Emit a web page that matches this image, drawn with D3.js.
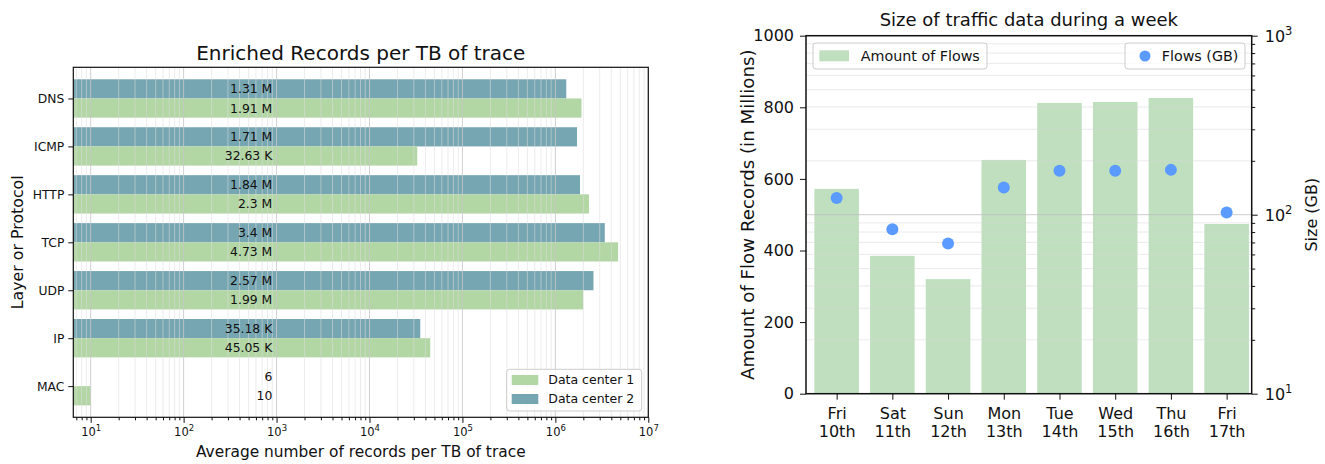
<!DOCTYPE html>
<html>
<head>
<meta charset="utf-8">
<script src="https://cdn.jsdelivr.net/npm/d3@7"></script>
<style>
  body { margin: 0; background: #fff; }
  text { font-family: "DejaVu Sans", sans-serif; fill: #111; }
  .domain { display: none; }
</style>
</head>
<body>
<svg width="1325" height="464"></svg>
<script>
// left chart data
var protocols = ["DNS", "ICMP", "HTTP", "TCP", "UDP", "IP", "MAC"];
var dc1Values = [1.91e6, 32630, 2.3e6, 4.73e6, 1.99e6, 45050, 10];
var dc2Values = [1.31e6, 1.71e6, 1.84e6, 3.4e6, 2.57e6, 35180, 6];
var seriesNames = ["Data center 1", "Data center 2"];

// right chart data
var dayNames = ["Fri", "Sat", "Sun", "Mon", "Tue", "Wed", "Thu", "Fri"];
var dayDates = ["10th", "11th", "12th", "13th", "14th", "15th", "16th", "17th"];
var flowsMillions = [572, 385, 320, 653, 812, 815, 826, 474];
var flowsGB = [124, 83, 69, 142, 176, 176, 178, 103];
var leftTicks = [0, 200, 400, 600, 800, 1000];

var svg = d3.select("svg");
var green = "#b2d6a4", teal = "#76a6b2";

var fmt2 = d3.format(".2~f");
function short(v) {
  if (v >= 1e6) return fmt2(v / 1e6) + " M";
  if (v >= 1e3) return fmt2(v / 1e3) + " K";
  return String(v);
}

// log tick values between two limits
function logTicks(lo, hi) {
  var major = [], minor = [];
  for (var k = Math.floor(Math.log10(lo)); k <= Math.ceil(Math.log10(hi)); k++) {
    for (var m = 1; m < 10; m++) {
      var v = m * Math.pow(10, k);
      if (v < lo * 0.999 || v > hi * 1.001) continue;
      (m == 1 ? major : minor).push(v);
    }
  }
  return { major: major, minor: minor };
}

function powText(sel, exp, size, supSize) {
  sel.append("tspan").text("10");
  sel.append("tspan").attr("dy", -size * 0.42).style("font-size", supSize + "px").text(exp);
}

/* ---------------- left: enriched records ---------------- */
var L = { left: 73.3, right: 648.3, top: 67.3, bottom: 417.3 };

var x = d3.scaleLog().domain([6.5, 1e7]).range([L.left, L.right]);
var y = d3.scaleLinear().domain([-0.65, 6.65]).range([L.top, L.bottom]);
var bh = 0.4;

var g1 = svg.append("g");

var rows = protocols.map(function (p, i) {
  return { name: p, i: i, dc1: dc1Values[i], dc2: dc2Values[i] };
});

function barW(v) { return Math.max(0, x(v) - x.range()[0]); }

g1.selectAll(".dc2").data(rows).enter().append("rect")
  .attr("x", L.left)
  .attr("y", function (d) { return y(d.i - bh); })
  .attr("width", function (d) { return barW(d.dc2); })
  .attr("height", y(bh) - y(0))
  .attr("fill", teal);

g1.selectAll(".dc1").data(rows).enter().append("rect")
  .attr("x", L.left)
  .attr("y", function (d) { return y(d.i); })
  .attr("width", function (d) { return barW(d.dc1); })
  .attr("height", y(bh) - y(0))
  .attr("fill", green);

// grid on top of the bars
var lt = logTicks(6.5, 1e7);
g1.selectAll(".gminor").data(lt.minor).enter().append("line")
  .attr("x1", x).attr("x2", x)
  .attr("y1", L.top).attr("y2", L.bottom)
  .attr("stroke", "#dcdcdc").attr("stroke-opacity", 0.55).attr("stroke-width", 1);
g1.selectAll(".gmajor").data(lt.major).enter().append("line")
  .attr("x1", x).attr("x2", x)
  .attr("y1", L.top).attr("y2", L.bottom)
  .attr("stroke", "#c8c8c8").attr("stroke-opacity", 0.85).attr("stroke-width", 1);

// value labels
var labelAt = 900;
g1.selectAll(".l2").data(rows).enter().append("text")
  .attr("x", x(labelAt))
  .attr("y", function (d) { return y(d.i - bh / 2); })
  .attr("dy", "0.36em")
  .attr("text-anchor", "end")
  .style("font-size", "12.4px")
  .text(function (d) { return short(d.dc2); });
g1.selectAll(".l1").data(rows).enter().append("text")
  .attr("x", x(labelAt))
  .attr("y", function (d) { return y(d.i + bh / 2); })
  .attr("dy", "0.36em")
  .attr("text-anchor", "end")
  .style("font-size", "12.4px")
  .text(function (d) { return short(d.dc1); });

// axes
g1.append("g").attr("transform", "translate(0," + L.bottom + ")")
  .call(d3.axisBottom(x).tickValues(lt.minor).tickSize(3).tickFormat(""));
var xb = g1.append("g").attr("transform", "translate(0," + L.bottom + ")")
  .call(d3.axisBottom(x).tickValues(lt.major).tickSize(5.5).tickFormat(""));
xb.selectAll(".tick").each(function (d) {
  var t = d3.select(this).append("text")
    .attr("y", 19).attr("text-anchor", "middle")
    .style("font-size", "11.5px").attr("fill", "#111");
  powText(t, Math.round(Math.log10(d)), 11.5, 8.5);
});

var ya = g1.append("g").attr("transform", "translate(" + L.left + ",0)")
  .call(d3.axisLeft(y).tickValues(d3.range(protocols.length)).tickSize(5).tickPadding(4)
    .tickFormat(function (i) { return protocols[i]; }));
ya.selectAll("text").style("font-size", "12.3px").attr("fill", "#111").style("font-family", "DejaVu Sans");

g1.selectAll(".tick line").attr("stroke", "#111");

g1.append("rect")
  .attr("x", L.left).attr("y", L.top)
  .attr("width", L.right - L.left).attr("height", L.bottom - L.top)
  .attr("fill", "none").attr("stroke", "#111").attr("stroke-width", 1.2);

g1.append("text")
  .attr("x", (L.left + L.right) / 2).attr("y", 60)
  .attr("text-anchor", "middle").style("font-size", "20px")
  .text("Enriched Records per TB of trace");
g1.append("text")
  .attr("x", (L.left + L.right) / 2).attr("y", 457)
  .attr("text-anchor", "middle").style("font-size", "15.4px")
  .text("Average number of records per TB of trace");
g1.append("text")
  .attr("transform", "translate(23," + (L.top + L.bottom) / 2 + ") rotate(-90)")
  .attr("text-anchor", "middle").style("font-size", "15.8px")
  .text("Layer or Protocol");

// legend
var lg = g1.append("g").attr("transform", "translate(506.7,369.3)");
lg.append("rect").attr("width", 135).attr("height", 41.7).attr("rx", 3)
  .attr("fill", "#fff").attr("fill-opacity", 0.8).attr("stroke", "#cccccc");
[green, teal].forEach(function (c, k) {
  lg.append("rect").attr("x", 5).attr("y", 5.7 + k * 19).attr("width", 26.6).attr("height", 10).attr("fill", c);
  lg.append("text").attr("x", 41.6).attr("y", 10.7 + k * 19).attr("dy", "0.36em")
    .style("font-size", "12.5px").text(seriesNames[k]);
});

/* ---------------- right: traffic during a week ---------------- */
var R = { left: 806, right: 1251.7, top: 35.7, bottom: 393.7 };
var x2 = d3.scaleLinear().domain([-0.55, 7.45]).range([R.left, R.right]);
var yL = d3.scaleLinear().domain([0, 1000]).range([R.bottom, R.top]);
var yR = d3.scaleLog().domain([10, 1000]).range([R.bottom, R.top]);
var bw = 0.8;

var g2 = svg.append("g");

g2.selectAll(".bar").data(flowsMillions).enter().append("rect")
  .attr("x", function (d, i) { return x2(i - bw / 2); })
  .attr("width", x2(bw) - x2(0))
  .attr("y", function (d) { return yL(d); })
  .attr("height", function (d) { return yL(0) - yL(d); })
  .attr("fill", "#bfdfbf");

var rt = logTicks(10, 1000);
g2.selectAll(".hminor").data(rt.minor).enter().append("line")
  .attr("x1", R.left).attr("x2", R.right)
  .attr("y1", yR).attr("y2", yR)
  .attr("stroke", "#d8d8d8").attr("stroke-opacity", 0.5);
g2.selectAll(".hmajor").data(rt.major).enter().append("line")
  .attr("x1", R.left).attr("x2", R.right)
  .attr("y1", yR).attr("y2", yR)
  .attr("stroke", "#bdbdbd").attr("stroke-opacity", 0.75);

g2.selectAll(".dot").data(flowsGB).enter().append("circle")
  .attr("cx", function (d, i) { return x2(i); })
  .attr("cy", function (d) { return yR(d); })
  .attr("r", 6)
  .attr("fill", "#5b9bff");

// left axis
var yla = g2.append("g").attr("transform", "translate(" + R.left + ",0)")
  .call(d3.axisLeft(yL).tickValues(leftTicks).tickSize(6).tickPadding(6).tickFormat(d3.format("d")));
yla.selectAll("text").style("font-size", "16px").attr("fill", "#111").style("font-family", "DejaVu Sans");

// right log axis
g2.append("g").attr("transform", "translate(" + R.right + ",0)")
  .call(d3.axisRight(yR).tickValues(rt.minor).tickSize(3.5).tickFormat(""));
var yra = g2.append("g").attr("transform", "translate(" + R.right + ",0)")
  .call(d3.axisRight(yR).tickValues(rt.major).tickSize(6).tickFormat(""));
yra.selectAll(".tick").each(function (d) {
  var t = d3.select(this).append("text")
    .attr("x", 13).attr("dy", "0.36em").attr("text-anchor", "start")
    .style("font-size", "16px").attr("fill", "#111");
  powText(t, Math.round(Math.log10(d)), 16, 11.5);
});

// x axis
var xa = g2.append("g").attr("transform", "translate(0," + R.bottom + ")")
  .call(d3.axisBottom(x2).tickValues(d3.range(dayNames.length)).tickSize(6).tickFormat(""));
xa.selectAll(".tick").each(function (i) {
  var t = d3.select(this).append("text").attr("text-anchor", "middle")
    .style("font-size", "16px").attr("fill", "#111");
  t.append("tspan").attr("x", 0).attr("y", 25).text(dayNames[i]);
  t.append("tspan").attr("x", 0).attr("y", 43.5).text(dayDates[i]);
});

g2.selectAll(".tick line").attr("stroke", "#111");

g2.append("rect")
  .attr("x", R.left).attr("y", R.top)
  .attr("width", R.right - R.left).attr("height", R.bottom - R.top)
  .attr("fill", "none").attr("stroke", "#111").attr("stroke-width", 1.5);

g2.append("text")
  .attr("x", (R.left + R.right) / 2).attr("y", 26)
  .attr("text-anchor", "middle").style("font-size", "18px")
  .text("Size of traffic data during a week");
g2.append("text")
  .attr("transform", "translate(754," + (R.top + R.bottom) / 2 + ") rotate(-90)")
  .attr("text-anchor", "middle").style("font-size", "18.2px")
  .text("Amount of Flow Records (in Millions)");
g2.append("text")
  .attr("transform", "translate(1317," + (R.top + R.bottom) / 2 + ") rotate(-90)")
  .attr("text-anchor", "middle").style("font-size", "16px")
  .text("Size (GB)");

// legends
var la = g2.append("g").attr("transform", "translate(813,43)");
la.append("rect").attr("width", 174).attr("height", 26).attr("rx", 3)
  .attr("fill", "#fff").attr("fill-opacity", 0.8).attr("stroke", "#cccccc");
la.append("rect").attr("x", 6.3).attr("y", 7.3).attr("width", 29.7).attr("height", 11).attr("fill", "#bfdfbf");
la.append("text").attr("x", 47.7).attr("y", 13).attr("dy", "0.36em").style("font-size", "14.3px").text("Amount of Flows");

var lb = g2.append("g").attr("transform", "translate(1125,43)");
lb.append("rect").attr("width", 120).attr("height", 26).attr("rx", 3)
  .attr("fill", "#fff").attr("fill-opacity", 0.8).attr("stroke", "#cccccc");
lb.append("circle").attr("cx", 20).attr("cy", 13).attr("r", 5.5).attr("fill", "#5b9bff");
lb.append("text").attr("x", 36.7).attr("y", 13).attr("dy", "0.36em").style("font-size", "14.3px").text("Flows (GB)");
</script>
</body>
</html>
